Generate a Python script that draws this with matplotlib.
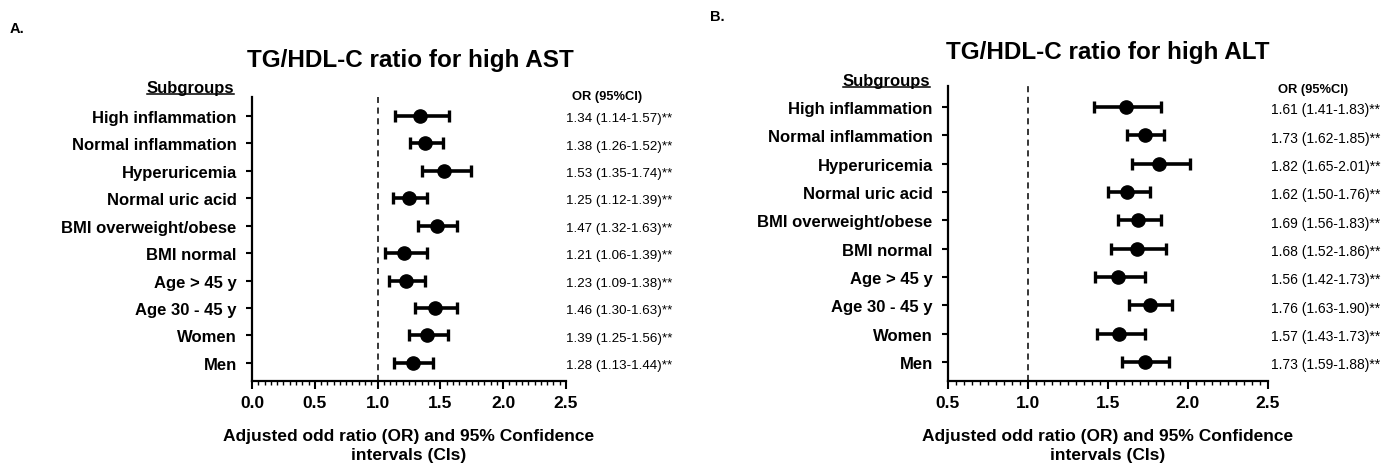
import numpy as np
import matplotlib
matplotlib.use("Agg")
import matplotlib.pyplot as plt
from matplotlib.ticker import MultipleLocator
from matplotlib.lines import Line2D
from matplotlib.transforms import IdentityTransform, blended_transform_factory

plt.rcParams['font.family'] = ['Liberation Sans', 'DejaVu Sans']

subgroups = ['High inflammation', 'Normal inflammation', 'Hyperuricemia',
             'Normal uric acid', 'BMI overweight/obese', 'BMI normal',
             'Age > 45 y', 'Age 30 - 45 y', 'Women', 'Men']

ast_or = [1.34, 1.38, 1.53, 1.25, 1.47, 1.21, 1.23, 1.46, 1.39, 1.28]
ast_lo = [1.14, 1.26, 1.35, 1.12, 1.32, 1.06, 1.09, 1.30, 1.25, 1.13]
ast_hi = [1.57, 1.52, 1.74, 1.39, 1.63, 1.39, 1.38, 1.63, 1.56, 1.44]

alt_or = [1.61, 1.73, 1.82, 1.62, 1.69, 1.68, 1.56, 1.76, 1.57, 1.73]
alt_lo = [1.41, 1.62, 1.65, 1.50, 1.56, 1.52, 1.42, 1.63, 1.43, 1.59]
alt_hi = [1.83, 1.85, 2.01, 1.76, 1.83, 1.86, 1.73, 1.90, 1.73, 1.88]

fig = plt.figure(figsize=(13.92, 4.64), dpi=100)
W, H = 1392, 464


def panel(rect, ylim, x_min, orv, lo, hi, title, title_xy, sub_xy, letter, letter_xy,
          txt_x, hdr_x, hdr_y, txt_size):
    ax = fig.add_axes(rect)
    orv, lo, hi = np.array(orv), np.array(lo), np.array(hi)
    ypos = np.arange(len(subgroups))[::-1]
    ax.axvline(1.0, color='black', lw=1.1, ls=(0, (4, 3)))
    ax.errorbar(orv, ypos, xerr=[orv - lo, hi - orv], fmt='o', color='black',
                ms=9.5, elinewidth=2.6, capsize=4.3, capthick=2.4)
    ax.set_ylim(*ylim)
    ax.set_xlim(x_min, 2.5)
    ax.set_yticks(ypos)
    ax.set_yticklabels(subgroups, fontsize=12, fontweight='bold')
    ticks = np.arange(x_min, 2.51, 0.5)
    ax.set_xticks(ticks)
    ax.set_xticklabels(['%.1f' % t for t in ticks], fontsize=12.5, fontweight='bold')
    ax.xaxis.set_minor_locator(MultipleLocator(0.05))
    ax.tick_params(axis='y', length=4, width=1.5, pad=7)
    ax.tick_params(axis='x', which='major', length=6, width=1.5, pad=4)
    ax.tick_params(axis='x', which='minor', length=3, width=1)
    for s in ['top', 'right']:
        ax.spines[s].set_visible(False)
    for s in ['left', 'bottom']:
        ax.spines[s].set_linewidth(1.6)
    ax.set_xlabel('Adjusted odd ratio (OR) and 95% Confidence\nintervals (CIs)',
                  fontsize=12.5, fontweight='bold', labelpad=13, linespacing=1.3)

    tr = blended_transform_factory(ax.transAxes, ax.transData)
    for y, o, l, h in zip(ypos, orv, lo, hi):
        ax.text(txt_x, y - 0.08, '%.2f (%.2f-%.2f)**' % (o, l, h), transform=tr,
                fontsize=txt_size, va='center', ha='left', clip_on=False)
    ax.text(hdr_x, hdr_y, 'OR (95%CI)', transform=tr, fontsize=9.3,
            fontweight='bold', va='center', ha='left', clip_on=False)

    fig.text(title_xy[0] / W, 1 - title_xy[1] / H, title, fontsize=17.5,
             fontweight='bold', ha='center', va='center')
    fig.text(letter_xy[0] / W, 1 - letter_xy[1] / H, letter, fontsize=10.5,
             fontweight='bold', ha='left', va='center')
    st = fig.text(sub_xy[0] / W, 1 - sub_xy[1] / H, 'Subgroups', fontsize=12,
                  fontweight='bold', ha='right', va='baseline')
    return st


sub_a = panel([252 / W, 1 - 382 / H, 314 / W, 284 / H], (-0.66, 9.69), 0.0,
              ast_or, ast_lo, ast_hi, 'TG/HDL-C ratio for high AST', (410, 61),
              (234, 93), 'A.', (10, 29), 1.0, 1.019, 9.73, 9.6)
sub_b = panel([948 / W, 1 - 382 / H, 320 / W, 295 / H], (-0.67, 9.74), 0.5,
              alt_or, alt_lo, alt_hi, 'TG/HDL-C ratio for high ALT', (1108, 53),
              (930, 86), 'B.', (710, 17), 1.01, 1.03, 9.64, 10.0)

fig.canvas.draw()
for st in (sub_a, sub_b):
    bb = st.get_window_extent()
    x0, y0 = st.get_transform().transform(st.get_position())
    yl = y0 - 2
    fig.add_artist(Line2D([bb.x0, bb.x1], [yl, yl], color='black', lw=1.1,
                          transform=IdentityTransform()))

fig.savefig('out.png', dpi=100)
